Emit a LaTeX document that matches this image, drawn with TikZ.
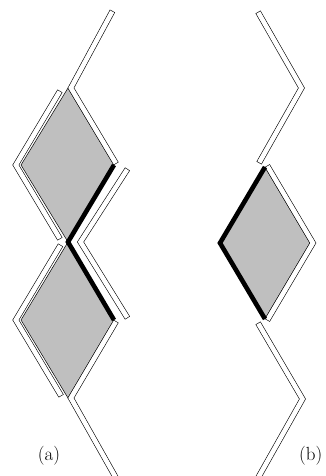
\documentclass[tikz,border=0pt]{standalone}
\begin{document}
\begin{tikzpicture}[x=1pt,y=-1pt,
  ribout/.style={line width=5.8pt,black,line join=miter},
  ribin/.style={line width=4.6pt,white,line join=miter,shorten <=0.6pt,shorten >=0.6pt},
  dia/.style={fill=black!25,draw=black,line width=0.5pt,line join=miter},
  band/.style={line width=4.6pt,black,line join=miter},
  lbl/.style={inner sep=0pt,font=\fontsize{19}{22}\selectfont}]
\newcommand\ribbon[1]{\draw[ribout] #1; \draw[ribin] #1;}
\useasboundingbox (0,0) rectangle (325,476);
\clip (0,0) rectangle (325,476);
% ---------- panel (a) ----------
\coordinate (T1) at (68,88);  \coordinate (R1) at (114,165);
\coordinate (B1) at (68,242); \coordinate (L1) at (21,165);
\coordinate (R2) at (114,320);
\coordinate (B2) at (68,398); \coordinate (L2) at (21,320);
\draw[dia] (T1) -- (R1) -- (B1) -- (L1) -- cycle;
\draw[dia] (B1) -- (R2) -- (B2) -- (L2) -- cycle;
\ribbon{(112.5,11) -- (70.9,88) -- (116.1,163.7)}
\ribbon{(60,91) -- (15.8,165) -- (60,239)}
\ribbon{(60.6,245) -- (15.8,320) -- (61.2,396)}
\ribbon{(127.5,169) -- (80.5,242) -- (127.5,318)}
\ribbon{(116.1,321.3) -- (70.9,398) -- (116,478)}
\draw[band] (R1) -- (B1) -- (R2);
\node[lbl,anchor=base] (la) at (49,460) {(a)};
% ---------- panel (b) ----------
\coordinate (T) at (265,167); \coordinate (R) at (310,243);
\coordinate (B) at (265,319); \coordinate (L) at (220,243);
\draw[dia] (T) -- (R) -- (B) -- (L) -- cycle;
\ribbon{(258,12) -- (301.5,88) -- (259,163)}
\ribbon{(267.2,165.7) -- (312.9,243) -- (267.2,320.3)}
\ribbon{(258,323) -- (302.5,399) -- (258,478)}
\draw[band] (T) -- (L) -- (B);
\node[lbl,anchor=base west] (lb) at (299,460) {(b)};
\end{tikzpicture}
\end{document}
